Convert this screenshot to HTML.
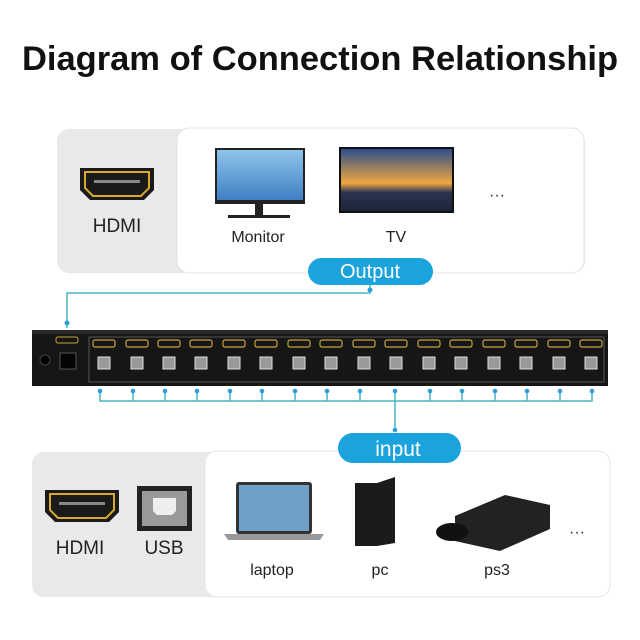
<!DOCTYPE html>
<html><head><meta charset="utf-8"><style>
body{margin:0;width:640px;height:640px;background:#fff;overflow:hidden}
svg{display:block}
text{font-family:"Liberation Sans",sans-serif}
</style></head><body>
<svg width="640" height="640" viewBox="0 0 640 640">
<defs>
<linearGradient id="sky" x1="0" y1="0" x2="0" y2="1"><stop offset="0" stop-color="#8fc4ea"/><stop offset="1" stop-color="#3f7fc4"/></linearGradient>
<linearGradient id="tv" x1="0" y1="0" x2="0" y2="1"><stop offset="0" stop-color="#2c4f8a"/><stop offset="0.55" stop-color="#f0a640"/><stop offset="0.7" stop-color="#2a3550"/><stop offset="1" stop-color="#1d2538"/></linearGradient>
<g id="hdmi"><path d="M0 0h74v22l-10 10h-54l-10-10z" fill="#1a1a1a"/><path d="M5 4h64v16l-8 8h-48l-8-8z" fill="none" stroke="#d9a92a" stroke-width="2"/><rect x="14" y="12" width="46" height="3" fill="#888"/></g>
</defs>
<text x="320" y="70" text-anchor="middle" font-size="34.5" font-weight="bold" fill="#111">Diagram of Connection Relationship</text>

<!-- top panel -->
<rect x="57" y="129" width="528" height="144" rx="12" fill="#e8e9eb"/>
<rect x="177" y="128" width="407" height="145" rx="12" fill="#fff" stroke="#e4e4e4"/>
<use href="#hdmi" transform="translate(80,168)"/>
<text x="117" y="232" text-anchor="middle" font-size="19" fill="#222">HDMI</text>
<rect x="215" y="148" width="90" height="56" fill="#222"/>
<rect x="217" y="150" width="86" height="50" fill="url(#sky)"/>
<rect x="255" y="204" width="8" height="12" fill="#222"/><rect x="228" y="215" width="62" height="3" fill="#222"/>
<text x="258" y="242" text-anchor="middle" font-size="16" fill="#222">Monitor</text>
<rect x="339" y="147" width="115" height="66" fill="#111"/>
<rect x="341" y="149" width="111" height="62" fill="url(#tv)"/>
<text x="396" y="242" text-anchor="middle" font-size="16" fill="#222">TV</text>
<text x="497" y="200" text-anchor="middle" font-size="16" fill="#333">···</text>
<rect x="308" y="258" width="125" height="27" rx="13.5" fill="#1ba3de"/>
<text x="370" y="278" text-anchor="middle" font-size="20" fill="#fff">Output</text>

<path d="M370 285V293H67V328" fill="none" stroke="#4bb3c2" stroke-width="1.5"/>
<circle cx="370" cy="290" r="2.5" fill="#2b9fdb"/><circle cx="67" cy="323" r="2.5" fill="#2b9fdb"/>

<!-- device -->
<rect x="32" y="333" width="576" height="53" fill="#161616"/>
<rect x="32" y="330" width="576" height="4" fill="#2a2a2a"/>
<circle cx="45" cy="360" r="5" fill="#000" stroke="#444"/>
<rect x="60" y="353" width="16" height="16" fill="#050505" stroke="#555"/>
<rect x="56" y="337" width="22" height="6" rx="2" fill="none" stroke="#c9a23b"/>
<rect x="89" y="337" width="515" height="45" fill="none" stroke="#555"/>
<g fill="none" stroke="#c9a23b" stroke-width="1.2">
<rect x="93" y="340" width="22" height="7" rx="2"/><rect x="126" y="340" width="22" height="7" rx="2"/><rect x="158" y="340" width="22" height="7" rx="2"/><rect x="190" y="340" width="22" height="7" rx="2"/><rect x="223" y="340" width="22" height="7" rx="2"/><rect x="255" y="340" width="22" height="7" rx="2"/><rect x="288" y="340" width="22" height="7" rx="2"/><rect x="320" y="340" width="22" height="7" rx="2"/><rect x="353" y="340" width="22" height="7" rx="2"/><rect x="385" y="340" width="22" height="7" rx="2"/><rect x="418" y="340" width="22" height="7" rx="2"/><rect x="450" y="340" width="22" height="7" rx="2"/><rect x="483" y="340" width="22" height="7" rx="2"/><rect x="515" y="340" width="22" height="7" rx="2"/><rect x="548" y="340" width="22" height="7" rx="2"/><rect x="580" y="340" width="22" height="7" rx="2"/>
</g>
<g fill="#999" stroke="#ddd" stroke-width="1">
<rect x="98" y="357" width="12" height="12"/><rect x="131" y="357" width="12" height="12"/><rect x="163" y="357" width="12" height="12"/><rect x="195" y="357" width="12" height="12"/><rect x="228" y="357" width="12" height="12"/><rect x="260" y="357" width="12" height="12"/><rect x="293" y="357" width="12" height="12"/><rect x="325" y="357" width="12" height="12"/><rect x="358" y="357" width="12" height="12"/><rect x="390" y="357" width="12" height="12"/><rect x="423" y="357" width="12" height="12"/><rect x="455" y="357" width="12" height="12"/><rect x="488" y="357" width="12" height="12"/><rect x="520" y="357" width="12" height="12"/><rect x="553" y="357" width="12" height="12"/><rect x="585" y="357" width="12" height="12"/>
</g>

<g stroke="#4bb3c2" stroke-width="1.5" fill="none">
<path d="M100 390V401H592V390M133 390V401M165 390V401M197 390V401M230 390V401M262 390V401M295 390V401M327 390V401M360 390V401M395 390V401M430 390V401M462 390V401M495 390V401M527 390V401M560 390V401M395 401V432"/>
</g>
<g fill="#2b9fdb">
<circle cx="100" cy="391" r="2.3"/><circle cx="133" cy="391" r="2.3"/><circle cx="165" cy="391" r="2.3"/><circle cx="197" cy="391" r="2.3"/><circle cx="230" cy="391" r="2.3"/><circle cx="262" cy="391" r="2.3"/><circle cx="295" cy="391" r="2.3"/><circle cx="327" cy="391" r="2.3"/><circle cx="360" cy="391" r="2.3"/><circle cx="395" cy="391" r="2.3"/><circle cx="430" cy="391" r="2.3"/><circle cx="462" cy="391" r="2.3"/><circle cx="495" cy="391" r="2.3"/><circle cx="527" cy="391" r="2.3"/><circle cx="560" cy="391" r="2.3"/><circle cx="592" cy="391" r="2.3"/><circle cx="395" cy="430" r="2.3"/>
</g>

<!-- bottom panel -->
<rect x="32" y="452" width="578" height="145" rx="12" fill="#e8e9eb"/>
<rect x="205" y="451" width="405" height="146" rx="12" fill="#fff" stroke="#e4e4e4"/>
<rect x="338" y="433" width="123" height="30" rx="15" fill="#1ba3de"/>
<text x="398" y="456" text-anchor="middle" font-size="21" fill="#fff">input</text>
<use href="#hdmi" transform="translate(45,490)"/>
<text x="80" y="554" text-anchor="middle" font-size="19" fill="#222">HDMI</text>
<rect x="137" y="486" width="55" height="45" fill="#222"/>
<rect x="142" y="491" width="45" height="35" fill="#9a9a9a"/>
<path d="M153 498h23v13l-4 4h-15l-4-4z" fill="#eee"/>
<text x="164" y="554" text-anchor="middle" font-size="19" fill="#222">USB</text>
<rect x="236" y="482" width="76" height="52" rx="3" fill="#333"/>
<rect x="239" y="485" width="70" height="46" fill="#6fa0c8"/>
<path d="M224 534h100l-4 6h-92z" fill="#999"/>
<text x="272" y="575" text-anchor="middle" font-size="16" fill="#222">laptop</text>
<path d="M355 483h22l18-6v66l-18 3h-22z" fill="#1b1b1b"/>
<text x="380" y="575" text-anchor="middle" font-size="16" fill="#222">pc</text>
<path d="M455 516l50-21 45 10v24l-50 22-45-10z" fill="#222"/>
<ellipse cx="452" cy="532" rx="16" ry="9" fill="#111"/>
<text x="497" y="575" text-anchor="middle" font-size="16" fill="#222">ps3</text>
<text x="577" y="537" text-anchor="middle" font-size="16" fill="#333">···</text>
</svg>
</body></html>
